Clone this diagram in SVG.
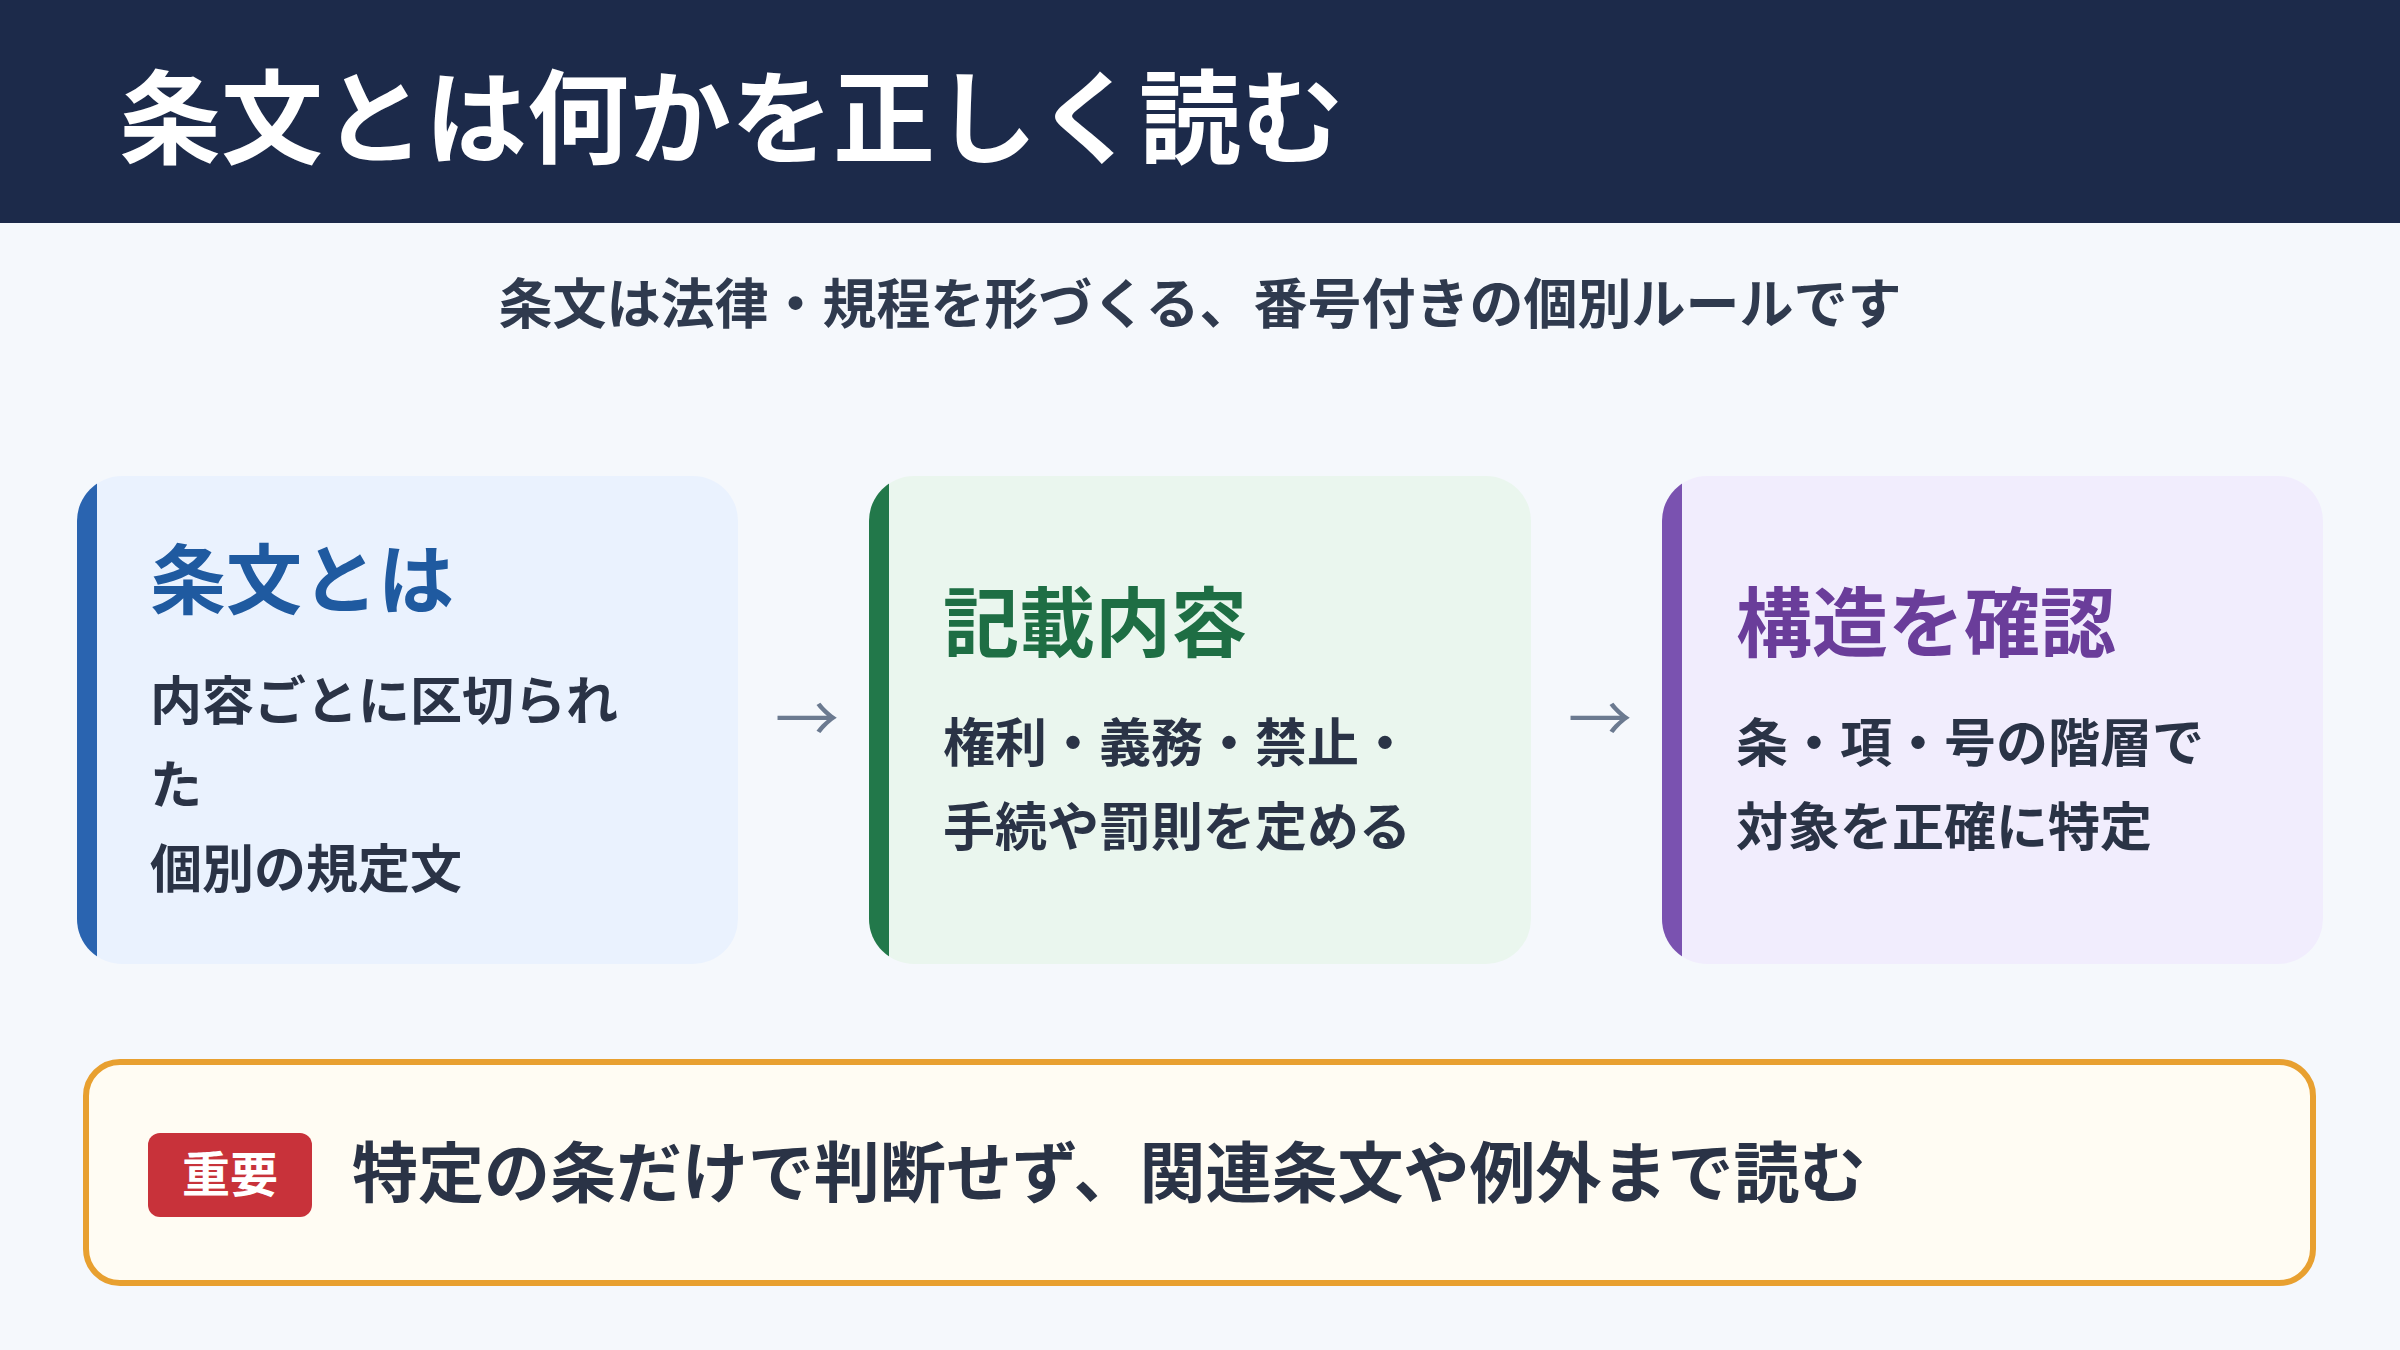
<svg xmlns="http://www.w3.org/2000/svg" width="2400" height="1350" viewBox="0 0 2400 1350">
<style>
text{font-family:"Noto Sans CJK JP","Noto Sans",sans-serif;font-weight:700}
.title{font-size:76px}
.body{font-size:52px;fill:#2a3346}
.arrow{font-size:64px;fill:#6b7a90;font-weight:400}
</style>
<defs>
<clipPath id="c1"><rect x="77" y="476" width="661" height="488" rx="45"/></clipPath>
<clipPath id="c2"><rect x="869" y="476" width="662" height="488" rx="45"/></clipPath>
<clipPath id="c3"><rect x="1662" y="476" width="661" height="488" rx="45"/></clipPath>
</defs>
<rect width="2400" height="1350" fill="#f5f8fc"/>
<g id="header">
<rect width="2400" height="223" fill="#1c2a4a"/>
<text x="119" y="156" font-size="102" fill="#fff">条文とは何かを正しく読む</text>
</g>
<text id="subtitle" x="1200" y="324" font-size="54" fill="#2f3a4e" text-anchor="middle">条文は法律・規程を形づくる、番号付きの個別ルールです</text>
<g id="card1" clip-path="url(#c1)">
<rect x="77" y="476" width="661" height="488" fill="#eaf2fe"/>
<rect x="77" y="476" width="20" height="488" fill="#2a64b0"/>
<text class="title" x="150" y="608" fill="#1f5aa0">条文とは</text>
<text class="body" x="150" y="720">内容ごとに区切られ</text>
<text class="body" x="150" y="804">た</text>
<text class="body" x="150" y="888">個別の規定文</text>
</g>
<g id="card2" clip-path="url(#c2)">
<rect x="869" y="476" width="662" height="488" fill="#eaf6ee"/>
<rect x="869" y="476" width="20" height="488" fill="#22784a"/>
<text class="title" x="943" y="651" fill="#1e6e44">記載内容</text>
<text class="body" x="943" y="762">権利・義務・禁止・</text>
<text class="body" x="943" y="846">手続や罰則を定める</text>
</g>
<g id="card3" clip-path="url(#c3)">
<rect x="1662" y="476" width="661" height="488" fill="#f1edfd"/>
<rect x="1662" y="476" width="20" height="488" fill="#7a52b0"/>
<text class="title" x="1736" y="651" fill="#6a3d9a">構造を確認</text>
<text class="body" x="1736" y="762">条・項・号の階層で</text>
<text class="body" x="1736" y="846">対象を正確に特定</text>
</g>
<g id="connectors">
<text class="arrow" x="807" y="742" text-anchor="middle">→</text>
<text class="arrow" x="1600" y="742" text-anchor="middle">→</text>
</g>
<g id="note">
<rect x="86" y="1062" width="2227" height="221" rx="34" fill="#fffcf3" stroke="#e8a030" stroke-width="6"/>
<rect x="148" y="1133" width="164" height="84" rx="12" fill="#c8323a"/>
<text x="230" y="1192" font-size="48" fill="#fff" text-anchor="middle">重要</text>
<text x="352" y="1197" font-size="66" fill="#2a3346">特定の条だけで判断せず、関連条文や例外まで読む</text>
</g>
</svg>
